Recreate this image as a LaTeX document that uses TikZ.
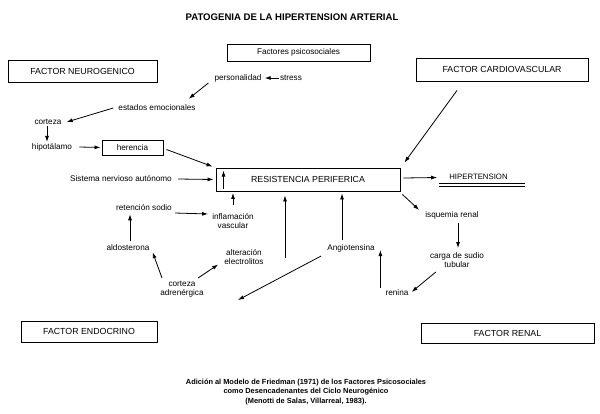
\documentclass[tikz,border=0pt]{standalone}
\usepackage{fontspec}
\setmainfont{Liberation Sans}
\usetikzlibrary{arrows.meta}

\tikzset{
  factor/.style={draw, line width=0.9pt, inner sep=0pt,
    font=\fontsize{8.8}{10}\selectfont},
  lbl/.style={inner sep=1pt, align=center, font=\fontsize{8.2}{9.5}\selectfont},
  flecha/.style={draw, line width=0.8pt, -{Latex[length=6pt,width=4pt]}},
}

\begin{document}
\begin{tikzpicture}[x=1pt,y=-1pt]
\useasboundingbox (0,0) rectangle (600,413);

        \node[font=\bfseries\fontsize{9.6}{11}\selectfont] (titulo) at (292,17) {PATOGENIA DE LA HIPERTENSION ARTERIAL};

        \begin{scope}[every node/.style={factor}]
          \node[minimum width=149pt, minimum height=22pt] (neuro)       at (82.5,71)   {FACTOR NEUROGENICO};
          \node[minimum width=172pt, minimum height=23pt] (cardio)      at (502,69.5)  {FACTOR CARDIOVASCULAR};
          \node[minimum width=136pt, minimum height=21pt] (endocrino)   at (89,331.5)  {FACTOR ENDOCRINO};
          \node[minimum width=173pt, minimum height=20pt] (renal)       at (507.5,333) {FACTOR RENAL};
          \node[minimum width=184pt, minimum height=23pt] (resistencia) at (308,179.5) {RESISTENCIA PERIFERICA};
          \node[minimum width=143pt, minimum height=17pt, font=\fontsize{8.2}{9.5}\selectfont] (psico) at (298.5,52.5) {Factores psicosociales};
          \node[minimum width=61pt, minimum height=15pt, font=\fontsize{8.2}{9.5}\selectfont] (herencia) at (132.5,147.5) {herencia};
        \end{scope}

        \begin{scope}[every node/.style={lbl}]
          \node (personalidad) at (238,78)  {personalidad};
          \node (stress)       at (291,78)  {stress};
          \node (emocionales)  at (157,108) {estados emocionales};
          \node (corteza)      at (48,122)  {corteza};
          \node (hipotalamo)   at (52,147)  {hipotálamo};
          \node (sistema)      at (121,179) {Sistema nervioso autónomo};
          \node (sodio)        at (144,208) {retención sodio};
          \node (inflamacion)  at (233,221) {inflamación\\vascular};
          \node (aldosterona)  at (128,248) {aldosterona};
          \node (alteracion)   at (244,257) {alteración\\electrolitos};
          \node (adrenergica)  at (182,289) {corteza\\adrenérgica};
          \node (angiotensina) at (351,248) {Angiotensina};
          \node (renina)       at (397,293) {renina};
          \node (isquemia)     at (452,215) {isquemia renal};
          \node (carga)        at (457,260) {carga de sudio\\tubular};
          \node[font=\fontsize{7.8}{9}\selectfont] (hta) at (478.5,176.5) {HIPERTENSION};
        \end{scope}

        % doble subrayado
        \draw[line width=0.9pt] (439,183) -- (525,183);
        \draw[line width=0.9pt] (439,186) -- (525,186);

        \node[font=\bfseries\fontsize{7.4}{9.6}\selectfont, align=center] (pie) at (306,392)
          {Adición al Modelo de Friedman (1971) de los Factores Psicosociales\\
           como Desencadenantes del Ciclo Neurogénico\\
           (Menotti de Salas, Villarreal, 1983).};

        \coordinate (base) at (285,258);
        \coordinate (haciaendo) at (238,300);
        \coordinate (r1) at ([shift={(-4pt,5pt)}]renina.west);

        \begin{scope}[every edge/.style={flecha}]
          \path (stress.west) edge[shorten >=2pt] (personalidad.east);
          \path ([xshift=-5pt]personalidad.south west) edge ([shift={(-8pt,5pt)}]emocionales.north east);
          \path ([xshift=-4pt]emocionales.west) edge ([xshift=4pt]corteza.east);
          \path ([xshift=-1pt]corteza.south) edge ([xshift=-5pt]hipotalamo.north);
          \path ([xshift=6pt]hipotalamo.east) edge[shorten >=1pt] (herencia.west);
          \path ([shift={(3pt,-2pt)}]herencia.east) edge ([shift={(-3pt,1pt)}]resistencia.north west);
          \path ([xshift=5pt]sistema.east) edge ([xshift=-2pt]resistencia.west);
          \path ([shift={(8pt,2pt)}]resistencia.south west) edge ([shift={(8pt,-3pt)}]resistencia.north west);
          \path ([yshift=7pt]inflamacion.north) edge[shorten >=1.5pt] (inflamacion.north |- resistencia.south);
          \path ([shift={(2pt,-5pt)}]sodio.east) edge ([shift={(-3pt,-2pt)}]inflamacion.north west);
          \path ([xshift=2pt,yshift=3pt]aldosterona.north) edge ([shift={(-14pt,-2pt)}]sodio.south);
          \path ([shift={(-20pt,1.5pt)}]adrenergica.north) edge ([xshift=2pt]aldosterona.south east);
          \path ([shift={(16pt,1.5pt)}]adrenergica.north) edge ([shift={(-5pt,1.5pt)}]alteracion.south west);
          \path (base) edge[shorten >=4pt] (base |- resistencia.south);
          \path ([shift={(-9pt,3pt)}]angiotensina.north) edge[shorten >=2pt] ([xshift=-9pt]angiotensina.north |- resistencia.south);
          \path ([shift={(-5pt,-8pt)}]angiotensina.west) edge (haciaendo);
          \path (r1) edge[shorten >=-3pt] (r1 |- angiotensina.south);
          \path ([shift={(7pt,-3pt)}]carga.south west) edge ([shift={(2pt,1pt)}]renina.east);
          \path ([shift={(6pt,-3pt)}]isquemia.south) edge ([shift={(1pt,3pt)}]carga.north);
          \path ([shift={(2pt,-3pt)}]resistencia.south east) edge ([xshift=-5pt]isquemia.north west);
          \path ([shift={(3pt,1.5pt)}]resistencia.east) edge ([shift={(-11pt,-1pt)}]hta.west);
          \path ([shift={(-45pt,-9pt)}]cardio.south) edge ([shift={(4pt,5pt)}]resistencia.north east);
        \end{scope}

\end{tikzpicture}
\end{document}
